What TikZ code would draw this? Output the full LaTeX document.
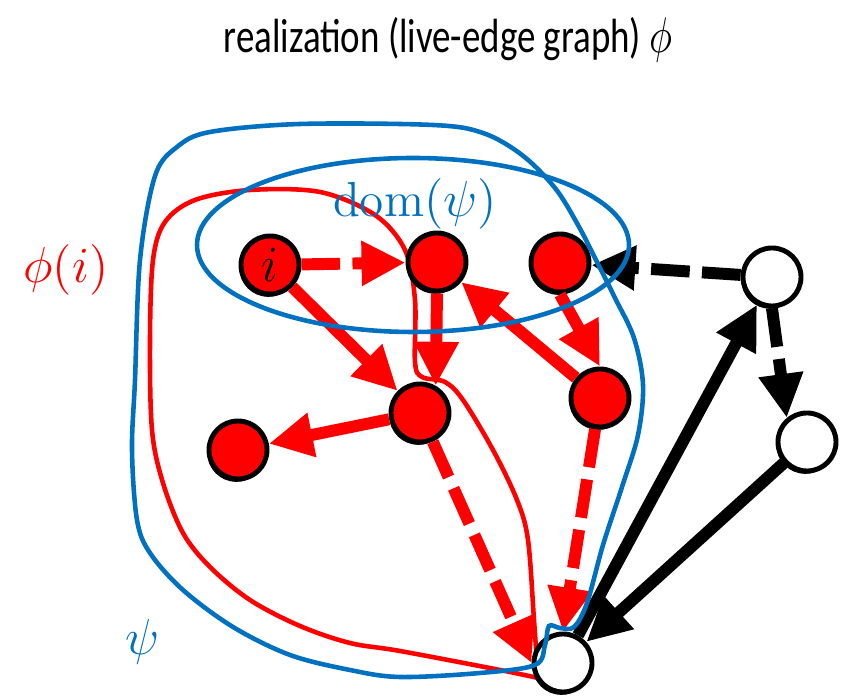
\documentclass[tikz,border=0pt]{standalone}
\usepackage{fontspec}
\newfontfamily\titlefont{Carlito}
\usetikzlibrary{arrows.meta,shadows}
\definecolor{psiblue}{RGB}{0,112,192}

\begin{document}
\begin{tikzpicture}[
            x=0.01cm, y=-0.01cm,
            vtx/.style={circle, draw=black, line width=1.4pt, fill=red, minimum size=0.58cm, inner sep=0pt, font=\fontsize{14}{16}\selectfont, drop shadow={shadow xshift=-0.5pt, shadow yshift=-0.8pt, fill=black, opacity=1}},
            freevtx/.style={vtx, fill=white},
            arc/.style={line width=3.4pt, -{Triangle[length=12.5pt,width=12pt]}},
            redarc/.style={arc, red},
            blackarc/.style={arc, black},
            dasharc/.style={dash pattern=on 11pt off 3.5pt},
            region/.style={line width=1.3pt},
            mathlabel/.style={font=\fontsize{14}{16}\selectfont}
        ]
            \useasboundingbox (0,0) rectangle (848,698);

            % realization phi(i)
            \draw[region, red] plot[smooth, tension=0.55] coordinates {(538,678) (500,670) (400,651) (350,643) (300,626) (250,600) (210,567) (183,533) (163,483) (152,430) (150,340) (153,260) (165,222) (195,200) (250,190) (320,192) (375,215) (405,250) (415,300) (415,362) (422,377) (445,382) (463,400) (493,450) (517,500) (528,540) (534,620) (538,678)};

            \node[vtx] (i) at (270,265) {$i$};
            \node[vtx] (a) at (437,262) {};
            \node[vtx] (b) at (560,263) {};
            \node[vtx] (c) at (420,413) {};
            \node[vtx] (d) at (600,398) {};
            \node[vtx] (e) at (238,450) {};
            \node[freevtx] (u) at (772,277) {};
            \node[freevtx] (v) at (807,442) {};
            \node[freevtx] (w) at (563,663) {};

            \draw[redarc, dasharc] (i) -- (a);
            \draw[redarc] (i) -- (c);
            \draw[redarc] (a.south) -- (c.60);
            \draw[redarc] (d) -- (a);
            \draw[redarc] (b.south) -- (d.north);
            \draw[redarc] (c) -- (e);
            \draw[redarc, dasharc] (c) -- (w.west);
            \draw[redarc, dasharc] (d) -- (w.north);

            \draw[blackarc, dasharc] (u) -- (b);
            \draw[blackarc, dasharc] (u.south) -- (v.130);
            \draw[blackarc] (v) -- (w);
            \draw[blackarc] (w) -- (u);

            % partial realization psi and its domain
            \draw[region, psiblue] (413,245) ellipse [x radius=216, y radius=87];
            \draw[region, psiblue] plot[smooth cycle, tension=0.55] coordinates {(300,124) (433,125) (483,133) (522,155) (555,188) (578,225) (597,262) (615,298) (634,338) (643,385) (638,435) (622,487) (603,545) (587,603) (574,627) (560,628) (549,626) (545,645) (535,665) (480,673) (400,677) (350,670) (290,655) (233,627) (183,590) (150,553) (137,520) (132,450) (135,380) (140,260) (155,176) (177,147) (210,132)};

            \node[mathlabel, red] (philabel) at (66,270) {$\phi(i)$};
            \node[mathlabel, psiblue] (domlabel) at (415,204) {$\mathrm{dom}(\psi)$};
            \node[mathlabel, psiblue] (psilabel) at (143,642) {$\psi$};
            \node[font=\titlefont\fontsize{10.5}{12}\selectfont] (title) at (448,40) {\scalebox{1}[1.3]{realization (live-edge graph) $\phi$}};
        \end{tikzpicture}
\end{document}
